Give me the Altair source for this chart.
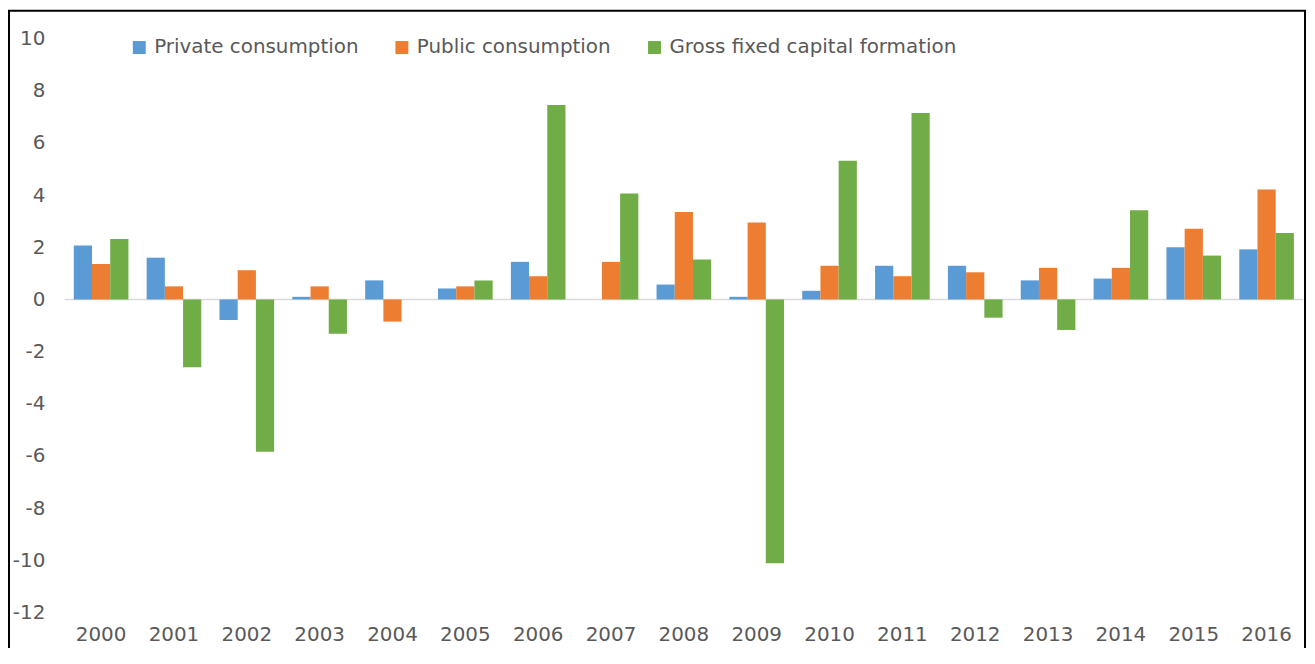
import altair as alt
import pandas as pd

years = ["2000", "2001", "2002", "2003", "2004", "2005", "2006", "2007", "2008",
         "2009", "2010", "2011", "2012", "2013", "2014", "2015", "2016"]
series = ["Private consumption", "Public consumption", "Gross fixed capital formation"]

private = [2.07, 1.60, -0.79, 0.10, 0.73, 0.42, 1.44, 0.00, 0.57,
           0.10, 0.33, 1.29, 1.29, 0.73, 0.80, 2.00, 1.92]
public = [1.36, 0.50, 1.12, 0.50, -0.85, 0.50, 0.89, 1.44, 3.35,
          2.95, 1.29, 0.89, 1.04, 1.21, 1.21, 2.71, 4.21]
gfcf = [2.32, -2.60, -5.84, -1.32, 0.00, 0.73, 7.45, 4.06, 1.53,
        -10.11, 5.32, 7.15, -0.70, -1.17, 3.42, 1.68, 2.55]

y_ticks = [-12, -10, -8, -6, -4, -2, 0, 2, 4, 6, 8, 10]
colors = ["#5B9BD5", "#ED7D31", "#70AD47"]

rows = []
for i, yr in enumerate(years):
    for s, vals in zip(series, [private, public, gfcf]):
        rows.append({"year": yr, "series": s, "value": vals[i]})
df = pd.DataFrame(rows)

font = "DejaVu Sans"
text_color = "#595959"

bars = alt.Chart(df).mark_bar().encode(
    x=alt.X("year:N", sort=years, title=None,
            scale=alt.Scale(paddingInner=0.25, paddingOuter=0.125),
            axis=alt.Axis(labelAngle=0, domain=False, ticks=False, tickSize=0,
                          labelPadding=12, labelFontSize=20, labelFont=font,
                          labelColor=text_color, grid=False)),
    xOffset=alt.XOffset("series:N", sort=series,
                        scale=alt.Scale(paddingInner=0, paddingOuter=0)),
    y=alt.Y("value:Q", title=None,
            scale=alt.Scale(domain=[-12, 10], nice=False, zero=False),
            axis=alt.Axis(values=y_ticks, domain=False, ticks=False, tickSize=0,
                          grid=False, labelPadding=20, labelFontSize=20,
                          labelFont=font, labelColor=text_color,
                          labelExpr="'' + datum.value")),
    color=alt.Color("series:N", sort=series,
                    scale=alt.Scale(domain=series, range=colors),
                    legend=alt.Legend(orient="none", legendX=65, legendY=-1,
                                      direction="horizontal", title=None,
                                      symbolType="square", symbolSize=169,
                                      symbolStrokeWidth=0, labelFontSize=20,
                                      labelFont=font, labelColor=text_color,
                                      labelLimit=500,
                                      labelOffset=5, columnPadding=33, padding=0)),
)

zero = alt.Chart(pd.DataFrame({"v": [0]})).mark_rule(
    color="#D9D9D9", strokeWidth=1.5
).encode(y="v:Q")

border = alt.Chart(alt.Data(values=[{"a": 1}])).mark_rect(
    fill="white", fillOpacity=0, stroke="black", strokeWidth=2
).encode(
    x=alt.value(-56), x2=alt.value(1247), y=alt.value(-28), y2=alt.value(700)
)

chart = alt.layer(border, zero, bars).properties(
    width=1245,
    height=577,
    autosize=alt.AutoSizeParams(type="none"),
    padding={"left": 57, "top": 29, "right": 4, "bottom": 34},
    background="white",
).configure_view(stroke=None)

chart.save("out.html", embed_options={"renderer": "svg", "actions": False})
